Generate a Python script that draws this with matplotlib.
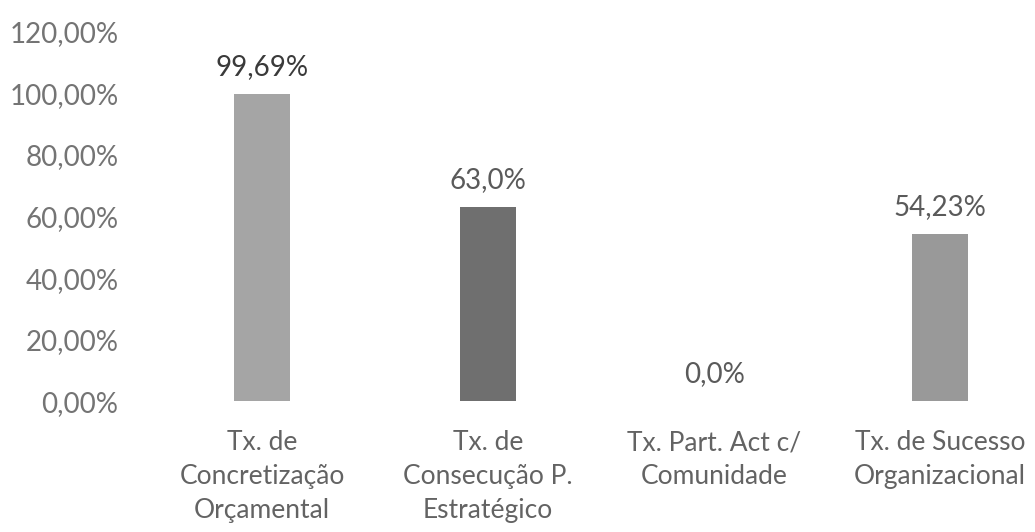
import matplotlib
matplotlib.use("Agg")
import matplotlib.pyplot as plt
from matplotlib.ticker import FuncFormatter

categories = ["Tx. de\nConcretização\nOrçamental",
              "Tx. de\nConsecução P.\nEstratégico",
              "Tx. Part. Act c/\nComunidade",
              "Tx. de Sucesso\nOrganizacional"]
values = [0.9969, 0.630, 0.0, 0.5423]
value_labels = ["99,69%", "63,0%", "0,0%", "54,23%"]
bar_colors = ["#a5a5a5", "#6f6f6f", "#8a8a8a", "#999999"]
label_colors = ["#3a3a3a", "#5a5a5a", "#5a5a5a", "#5a5a5a"]
yticks = [0, 0.2, 0.4, 0.6, 0.8, 1.0, 1.2]

plt.rcParams["font.family"] = ["Lato", "DejaVu Sans"]

fig = plt.figure(figsize=(10.35, 5.32), dpi=100)
ax = fig.add_axes([0.144, 0.246, 0.856, 0.694])

x = range(len(categories))
ax.bar(x, values, width=0.25, color=bar_colors)
for xi, v, t, c in zip(x, values, value_labels, label_colors):
    ax.annotate(t, (xi, v), xytext=(0, 10), textcoords="offset points",
                ha="center", va="bottom", fontsize=20, color=c)

ax.set_xlim(-0.5, 3.42)
ax.set_ylim(0, 1.2)
ax.set_yticks(yticks)
ax.yaxis.set_major_formatter(FuncFormatter(lambda v, p: f"{v*100:.2f}%".replace(".", ",")))
ax.set_xticks(list(x))
ax.set_xticklabels(categories, fontsize=19, color="#636363", linespacing=1.45)
ax.tick_params(axis="y", labelsize=20, labelcolor="#747474", length=0, pad=22)
ax.tick_params(axis="x", length=0, pad=21)
for s in ax.spines.values():
    s.set_visible(False)

fig.savefig("out.png", dpi=100)
